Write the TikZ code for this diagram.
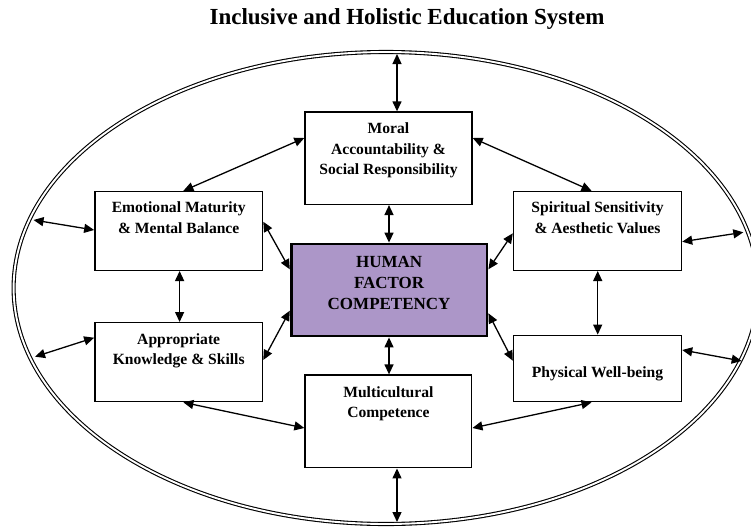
\documentclass[tikz,border=0pt]{standalone}
\usepackage{fontspec}
\setmainfont{Liberation Serif}
\usetikzlibrary{arrows.meta,shapes.geometric}
\definecolor{hfill}{HTML}{AC96C8}
\begin{document}
\begin{tikzpicture}[x=1pt,y=-1pt,
  box/.style={draw, line width=1.4pt, fill=white, inner sep=0pt, rectangle},
  lbl/.style={font=\bfseries\fontsize{15.6}{20.4}\selectfont, align=center, inner sep=0pt, anchor=north},
  biglbl/.style={font=\bfseries\fontsize{17}{21}\selectfont, align=center, inner sep=0pt, anchor=north},
  link/.style={line width=1.3pt, {Triangle[length=10pt,width=9pt]}-{Triangle[length=10pt,width=9pt]}},
  ring/.style={draw, ellipse, line width=1.1pt, double=white, double distance=1.9pt, inner sep=0pt}
]
\useasboundingbox (0,0) rectangle (751,527);
\clip (0,0) rectangle (751,527);

% title
\node[font=\bfseries\fontsize{23}{27}\selectfont, anchor=base, inner sep=0pt] (title) at (407,25) {Inclusive and Holistic Education System};

% outer ring
\node[ring, minimum width=744.8pt, minimum height=472pt] (ell) at (386,288) {};

% boxes
\node[box, minimum width=167pt, minimum height=92.3pt] (mor) at (388.5,158.2) {};
\node[box, minimum width=167.7pt, minimum height=78.8pt] (emo) at (178.7,230.9) {};
\node[box, minimum width=168pt, minimum height=78.8pt] (spi) at (597.5,230.9) {};
\node[box, minimum width=167.7pt, minimum height=79pt] (app) at (178.7,362.2) {};
\node[box, minimum width=168pt, minimum height=66.4pt] (phy) at (597.5,368.5) {};
\node[box, minimum width=166.7pt, minimum height=92.7pt] (mul) at (388.4,421.4) {};
\node[box, line width=2.8pt, fill=hfill, minimum width=195.8pt, minimum height=92pt] (hum) at (389.1,290) {};

% labels
\node[lbl] (mor-t) at (388.5,122.7) {Moral\\Accountability \&\\Social Responsibility};
\node[lbl] (emo-t) at (178.7,201.7) {Emotional Maturity\\\& Mental Balance};
\node[lbl] (spi-t) at (597.5,201.7) {Spiritual Sensitivity\\\& Aesthetic Values};
\node[lbl] (app-t) at (178.7,333.4) {Appropriate\\Knowledge \& Skills};
\node[lbl] (mul-t) at (388.4,386.1) {Multicultural\\Competence};
\node[lbl] (phy-t) at (597.5,366.4) {Physical Well-being};
\node[biglbl] (hum-t) at (389.1,255.7) {HUMAN\\FACTOR\\COMPETENCY};

% ring contact points
\coordinate (r-top) at (397,54);
\coordinate (r-bot) at (397,522);
\coordinate (r-l1) at (33.5,220);
\coordinate (r-l2) at (35,356.7);
\coordinate (r-r1) at (743.3,232.3);
\coordinate (r-r2) at (741.7,361);

% connectors
\draw[link] (r-top) -- (mor.north -| r-top);
\draw[link] (mul.south -| r-bot) -- (r-bot);
\draw[link] (mor.south -| 389,0) -- (hum.north -| 389,0);
\draw[link] (hum.south -| 389,0) -- (mul.north -| 389,0);
\draw[link] (emo.south -| 179.6,0) -- (app.north -| 179.6,0);
\draw[link] (spi.south -| 597.7,0) -- (phy.north -| 597.7,0);
\draw[link] (mor.west |- 0,138) -- (emo.north -| 183.4,0);
\draw[link] (mor.east |- 0,138) -- (spi.north -| 591.5,0);
\draw[link] (app.south -| 183.4,0) -- (mul.west |- 0,428);
\draw[link] (phy.south -| 591.5,0) -- (mul.east |- 0,428);
\draw[link] (emo.east |- 0,221.7) -- (hum.west |- 0,269.3);
\draw[link] (app.east |- 0,360) -- (hum.west |- 0,310.7);
\draw[link] (spi.west |- 0,233.3) -- (hum.east |- 0,269.3);
\draw[link] (phy.west |- 0,360.7) -- (hum.east |- 0,313.3);
\draw[link] (emo.west |- 0,230) -- (r-l1);
\draw[link] (app.west |- 0,337.7) -- (r-l2);
\draw[link] (spi.east |- 0,241.7) -- (r-r1);
\draw[link] (phy.east |- 0,350) -- (r-r2);
\end{tikzpicture}
\end{document}
